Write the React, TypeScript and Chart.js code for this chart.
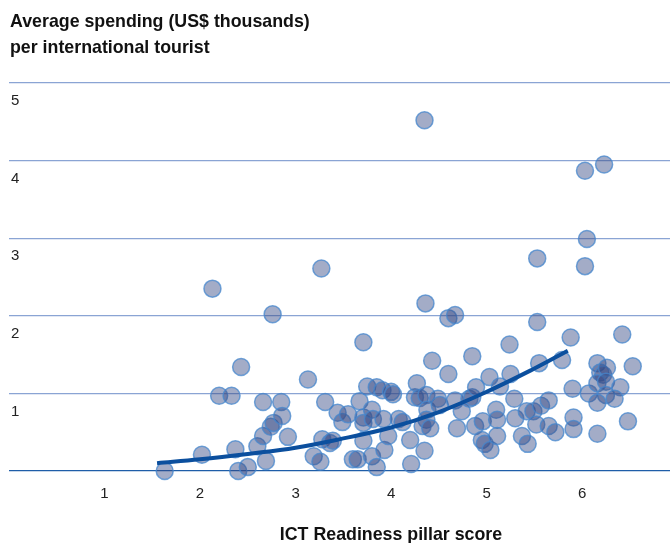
import React, { useEffect, useRef } from "react";
import { Chart, registerables } from "chart.js";

Chart.register(...registerables);

const yTitleLines = ["Average spending (US$ thousands)", "per international tourist"];
const xTitle = "ICT Readiness pillar score";

const xTickValues = [1, 2, 3, 4, 5, 6];
const yTickValues = [1, 2, 3, 4, 5];

// ICT Readiness pillar score per country
const scoreX = [
  1.63, 2.02, 2.13, 2.2, 2.33, 2.43, 2.37, 2.4, 2.5, 2.6,
  2.66, 2.66, 2.69, 2.74, 2.77, 2.76, 2.85, 2.86, 2.92, 3.13,
  3.19, 3.26, 3.27, 3.28, 3.31, 3.36, 3.39, 3.44, 3.49, 3.55,
  3.6, 3.65, 3.67, 3.71, 3.71, 3.71, 3.71, 3.75, 3.8, 3.8,
  3.81, 3.85, 3.85, 3.91, 3.92, 3.93, 3.97, 4.0, 4.02, 4.08,
  4.12, 4.2, 4.21, 4.25, 4.27, 4.3, 4.35, 4.35, 4.36, 4.37,
  4.38, 4.37, 4.33, 4.41, 4.43, 4.49, 4.51, 4.6, 4.67, 4.6,
  4.67, 4.69, 4.74, 4.82, 4.85, 4.85, 4.89, 4.88, 4.96, 4.95,
  4.98, 5.04, 5.03, 5.1, 5.11, 5.11, 5.14, 5.24, 5.25, 5.29,
  5.3, 5.37, 5.43, 5.42, 5.49, 5.52, 5.53, 5.53, 5.55, 5.57,
  5.65, 5.65, 5.72, 5.79, 5.88, 5.9, 5.91, 5.91, 6.03, 6.23,
  6.05, 6.03, 6.07, 6.16, 6.19, 6.22, 6.26, 6.16, 6.25, 6.4,
  6.25, 6.34, 6.16, 6.16, 6.42, 6.53, 6.48,
];

// Average spending per international tourist (US$ thousands)
const spendingY = [
  0.0, 0.21, 2.35, 0.97, 0.97, 1.34, 0.28, 0.0, 0.05, 0.32,
  0.45, 0.89, 0.13, 0.57, 0.62, 2.02, 0.89, 0.71, 0.44, 1.18,
  0.19, 0.12, 2.61, 0.41, 0.89, 0.36, 0.39, 0.75, 0.63, 0.73,
  0.15, 0.15, 0.9, 1.66, 0.69, 0.62, 0.39, 1.09, 0.79, 0.19,
  0.67, 1.08, 0.05, 1.04, 0.67, 0.27, 0.45, 1.02, 0.99, 0.67,
  0.63, 0.4, 0.09, 0.95, 1.13, 0.94, 4.52, 0.26, 2.16, 0.98,
  0.79, 0.66, 0.58, 0.55, 1.42, 0.93, 0.85, 1.97, 2.01, 1.25,
  0.91, 0.55, 0.77, 0.93, 1.48, 0.95, 1.08, 0.58, 0.64, 0.4,
  0.35, 0.27, 1.21, 0.79, 0.66, 0.45, 1.09, 1.63, 1.25, 0.93,
  0.68, 0.45, 0.35, 0.77, 0.77, 0.6, 1.92, 2.74, 1.39, 0.84,
  0.91, 0.58, 0.5, 1.43, 1.72, 1.06, 0.69, 0.54, 3.87, 3.95,
  2.99, 2.64, 1.0, 1.39, 1.27, 1.24, 1.33, 1.13, 1.15, 1.08,
  0.98, 0.93, 0.88, 0.48, 1.76, 1.35, 0.64,
];

// Fitted trend curve
const trendX = [1.55, 2.0, 2.5, 3.0, 3.5, 4.0, 4.5, 5.0, 5.5, 5.85];
const trendY = [0.1, 0.15, 0.22, 0.3, 0.42, 0.56, 0.76, 1.02, 1.32, 1.55];

const FONT = "'Liberation Sans', Arial, Helvetica, sans-serif";

export default function App() {
  const canvasRef = useRef<HTMLCanvasElement | null>(null);

  useEffect(() => {
    const canvas = canvasRef.current;
    if (!canvas) return;
    const points = scoreX.map((x, i) => ({ x, y: spendingY[i] }));
    const trend = trendX.map((x, i) => ({ x, y: trendY[i] }));

    const chart = new Chart(canvas, {
      type: "scatter",
      data: {
        datasets: [
          {
            type: "line",
            label: "Trend",
            data: trend,
            borderColor: "#0b4f9e",
            borderWidth: 4,
            pointRadius: 0,
            tension: 0.4,
            fill: false,
            order: 0,
            clip: false,
          } as any,
          {
            type: "scatter",
            label: "Countries",
            data: points,
            backgroundColor: "rgba(50,70,130,0.45)",
            borderColor: "rgba(70,135,205,0.75)",
            borderWidth: 1.5,
            pointRadius: 8.5,
            pointHoverRadius: 8.5,
            order: 1,
            clip: false,
          } as any,
        ],
      },
      options: {
        responsive: false,
        animation: false,
        devicePixelRatio: 1,
        layout: { autoPadding: false, padding: { left: 5, right: 0, top: 83, bottom: 26 } },
        plugins: {
          legend: { display: false },
          tooltip: { enabled: false },
          title: { display: false },
        },
        scales: {
          x: {
            type: "linear",
            min: 0,
            max: 6.92,
            grid: { display: false, drawTicks: false },
            border: { display: false },
            afterBuildTicks: (scale: any) => {
              scale.ticks = xTickValues.map((v) => ({ value: v }));
            },
            ticks: {
              padding: 14,
              color: "#222",
              font: { family: FONT, size: 15 },
              callback: (v: any) => String(v),
            },
          },
          y: {
            type: "linear",
            min: 0,
            max: 5,
            grid: {
              drawTicks: false,
              color: (ctx: any) => (ctx.tick && ctx.tick.value === 0 ? "#1f5ea8" : "#8aa4d4"),
              lineWidth: 1.3,
            },
            border: { display: false },
            afterBuildTicks: (scale: any) => {
              scale.ticks = [0, ...yTickValues].map((v) => ({ value: v }));
            },
            ticks: {
              mirror: true,
              padding: 2,
              labelOffset: 18,
              color: "#222",
              font: { family: FONT, size: 15 },
              callback: (v: any) => (yTickValues.includes(v) ? String(v) : ""),
            },
          },
        },
      },
    });
    return () => chart.destroy();
  }, []);

  return (
    <div
      style={{
        position: "fixed",
        left: 0,
        top: 0,
        width: 670,
        height: 543,
        background: "#fff",
        overflow: "hidden",
      }}
    >
      <canvas
        ref={canvasRef}
        width={670}
        height={543}
        style={{ position: "absolute", left: 0, top: 0, width: 670, height: 543 }}
      />
      <div
        style={{
          position: "absolute",
          left: 10,
          top: 8,
          fontFamily: FONT,
          fontWeight: 700,
          fontSize: 17.8,
          lineHeight: "26px",
          color: "#111",
          whiteSpace: "nowrap",
        }}
      >
        {yTitleLines.map((l, i) => (
          <div key={i}>{l}</div>
        ))}
      </div>
      <div
        style={{
          position: "absolute",
          left: 391,
          top: 521,
          transform: "translateX(-50%)",
          fontFamily: FONT,
          fontWeight: 700,
          fontSize: 17.8,
          lineHeight: "26px",
          color: "#111",
          whiteSpace: "nowrap",
        }}
      >
        {xTitle}
      </div>
    </div>
  );
}
